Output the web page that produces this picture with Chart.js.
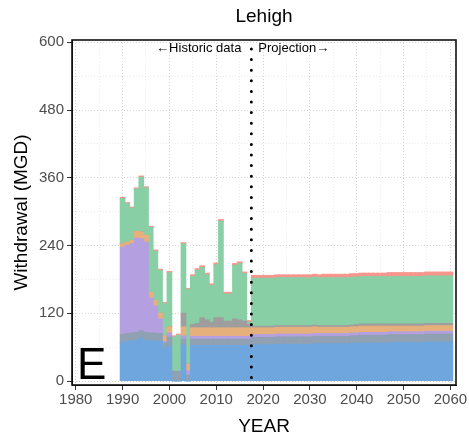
<!DOCTYPE html>
<html>
<head>
<meta charset="utf-8">
<script src="https://cdn.jsdelivr.net/npm/chart.js@4.4.0/dist/chart.umd.min.js"></script>
<style>
  html, body { margin: 0; padding: 0; background: #fff; }
</style>
</head>
<body>
<canvas id="chart" width="469" height="442"></canvas>
<script>
// years: historic 1990-2017, projection 2018-2060
const years = [
  1990, 1991, 1992, 1993, 1994, 1995, 1996, 1997, 1998, 1999,
  2000, 2001, 2002, 2003, 2004, 2005, 2006, 2007, 2008, 2009,
  2010, 2011, 2012, 2013, 2014, 2015, 2016, 2017,
  2018, 2019, 2020, 2021, 2022, 2023, 2024, 2025, 2026, 2027,
  2028, 2029, 2030, 2031, 2032, 2033, 2034, 2035, 2036, 2037,
  2038, 2039, 2040, 2041, 2042, 2043, 2044, 2045, 2046, 2047,
  2048, 2049, 2050, 2051, 2052, 2053, 2054, 2055, 2056, 2057,
  2058, 2059, 2060
];

// stacked layers, bottom to top (MGD)
const blueVals = [
  68, 70, 71, 72, 76, 72, 71, 71, 70, 57,
  62, 0, 0, 64, 0, 63, 63, 63, 63, 63,
  63, 63, 63, 63, 63, 63, 63, 63,
  64, 64, 64, 64, 64, 65, 65, 65, 65, 65,
  65, 65, 65, 66, 66, 66, 66, 66, 66, 66,
  66, 67, 67, 67, 67, 67, 67, 67, 67, 68,
  68, 68, 68, 68, 68, 68, 68, 69, 69, 69,
  69, 69, 69
];
const slateVals = [
  14, 14, 14, 14, 13, 14, 14, 14, 14, 10,
  16, 17, 17, 10, 10, 11, 11, 11, 11, 11,
  11, 11, 11, 11, 11, 11, 11, 11,
  13, 13, 13, 13, 13, 13, 13, 13, 13, 13,
  13, 13, 13, 13, 13, 13, 13, 13, 13, 13,
  13, 13, 13, 14, 14, 14, 14, 14, 14, 14,
  14, 14, 14, 14, 14, 14, 14, 14, 14, 14,
  14, 14, 14
];
const purpleVals = [
  155, 156, 158, 167, 163, 160, 62, 48, 26, 3,
  7, 0, 0, 6, 8, 5, 5, 5, 5, 5,
  5, 5, 5, 5, 5, 5, 5, 5,
  5, 5, 5, 5, 5, 5, 5, 5, 5, 5,
  5, 5, 5, 5, 5, 5, 5, 5, 5, 5,
  5, 5, 5, 5, 5, 5, 5, 5, 5, 5,
  5, 5, 5, 5, 5, 5, 5, 5, 5, 5,
  5, 5, 5
];
const orangeVals = [
  6, 6, 6, 12, 12, 12, 10, 10, 10, 10,
  11, 0, 0, 16, 12, 15, 15, 15, 15, 15,
  15, 15, 15, 15, 15, 15, 15, 15,
  12, 12, 12, 12, 12, 12, 12, 12, 12, 12,
  12, 12, 12, 12, 11, 11, 11, 11, 11, 11,
  11, 11, 11, 11, 11, 11, 11, 11, 11, 10,
  10, 10, 10, 10, 10, 10, 10, 10, 10, 10,
  10, 10, 10
];
const greyVals = [
  0, 0, 0, 0, 0, 0, 0, 0, 0, 0,
  0, 0, 0, 24, 0, 6, 8, 18, 14, 10,
  18, 18, 12, 12, 16, 14, 12, 6,
  3, 3, 3, 3, 3, 3, 3, 3, 3, 3,
  3, 3, 3, 3, 3, 3, 3, 3, 3, 3,
  3, 3, 4, 4, 4, 4, 4, 4, 4, 4,
  4, 4, 4, 4, 4, 4, 4, 4, 4, 4,
  4, 4, 4
];
const greenVals = [
  80, 68, 57, 75, 97, 84, 115, 87, 76, 57,
  96, 61, 64, 123, 132, 85, 94, 89, 80, 65,
  94, 171, 48, 48, 95, 100, 84, 4,
  85, 85, 85, 85, 85, 85, 85, 85, 85, 85,
  85, 85, 85, 85, 85, 85, 85, 85, 85, 85,
  85, 85, 84, 84, 84, 84, 84, 84, 84, 84,
  84, 84, 84, 84, 84, 84, 84, 84, 84, 84,
  84, 84, 84
];
const salmonVals = [
  2, 2, 2, 2, 2, 2, 2, 2, 2, 2,
  2, 2, 2, 2, 2, 3, 3, 3, 3, 3,
  3, 3, 3, 3, 3, 3, 3, 3,
  5, 5, 5, 5, 5, 5, 5, 5, 5, 5,
  5, 5, 5, 5, 5, 6, 6, 6, 6, 6,
  6, 6, 6, 6, 6, 6, 6, 6, 6, 7,
  7, 7, 7, 7, 7, 7, 7, 7, 7, 7,
  7, 7, 7
];

const yTicks = [0, 60, 120, 180, 240, 300, 360, 420, 480, 540, 600];
const yLabels = [0, 120, 240, 360, 480, 600];
const xTicks = [1980, 1985, 1990, 1995, 2000, 2005, 2010, 2015, 2020, 2025,
  2030, 2035, 2040, 2045, 2050, 2055, 2060];
const xLabels = [1980, 1990, 2000, 2010, 2020, 2030, 2040, 2050, 2060];
const splitYear = 2017.5;

const FONT = '"Liberation Sans", Arial, sans-serif';

const layers = [
  ['blue', blueVals, '#6fa6de'],
  ['slate', slateVals, '#8fa1b2'],
  ['purple', purpleVals, '#b4a0e0'],
  ['orange', orangeVals, '#e6b07d'],
  ['grey', greyVals, '#9e9e9e'],
  ['green', greenVals, '#89cfa6'],
  ['salmon', salmonVals, '#f6968c']
];

const datasets = layers.map(([name, vals, color]) => ({
  label: name,
  data: years.map((yr, i) => ({ x: yr, y: vals[i] })),
  backgroundColor: color,
  borderWidth: 0,
  inflateAmount: 0.5,
  barPercentage: 1,
  categoryPercentage: 1
}));

function isMajor(ctx, list) {
  return !!(ctx && ctx.tick && list.includes(ctx.tick.value));
}
function gridColor(list) {
  return ctx => isMajor(ctx, list) ? 'rgba(0,0,0,0.17)' : 'rgba(0,0,0,0.08)';
}
function tickMark(list) {
  return ctx => isMajor(ctx, list) ? '#333' : 'rgba(0,0,0,0)';
}

const decor = {
  id: 'decor',
  beforeDraw(chart) {
    const ctx = chart.ctx;
    ctx.save();
    ctx.fillStyle = '#fff';
    ctx.fillRect(0, 0, chart.width, chart.height);
    ctx.restore();
  },
  afterDraw(chart) {
    const { ctx, chartArea: a, scales: { x } } = chart;
    const px = x.getPixelForValue(splitYear);
    ctx.save();
    // historic / projection divider
    ctx.strokeStyle = '#000';
    ctx.lineWidth = 3;
    ctx.lineCap = 'round';
    ctx.setLineDash([0, 10.6]);
    ctx.beginPath();
    ctx.moveTo(px, a.top + 9);
    ctx.lineTo(px, a.bottom);
    ctx.stroke();
    ctx.setLineDash([]);

    // panel border
    ctx.lineCap = 'butt';
    ctx.lineWidth = 1.6;
    ctx.strokeStyle = '#111';
    ctx.strokeRect(a.left, a.top, a.right - a.left, a.bottom - a.top);

    ctx.fillStyle = '#000';
    ctx.textBaseline = 'middle';
    ctx.font = '13px ' + FONT;
    ctx.textAlign = 'right';
    ctx.fillText('\u2190Historic data', px - 10, a.top + 8);
    ctx.textAlign = 'left';
    ctx.fillText('Projection\u2192', px + 7, a.top + 8);

    // title and axis titles
    const cx = (a.left + a.right) / 2;
    ctx.textAlign = 'center';
    ctx.font = '19px ' + FONT;
    ctx.fillText('Lehigh', cx, 17);
    ctx.fillText('YEAR', cx, 427);
    ctx.save();
    ctx.translate(22, (a.top + a.bottom) / 2);
    ctx.rotate(-Math.PI / 2);
    ctx.fillText('Withdrawal (MGD)', 0, 0);
    ctx.restore();

    // panel letter
    ctx.textAlign = 'left';
    ctx.textBaseline = 'alphabetic';
    ctx.font = '44px ' + FONT;
    ctx.fillText('E', a.left + 5, a.bottom - 6);
    ctx.restore();
  }
};

new Chart(document.getElementById('chart'), {
  type: 'bar',
  data: { datasets },
  plugins: [decor],
  options: {
    responsive: false,
    animation: false,
    events: [],
    layout: { padding: { top: 40, right: 13, left: 0, bottom: 0 } },
    plugins: { legend: { display: false }, title: { display: false }, tooltip: { enabled: false } },
    scales: {
      x: {
        type: 'linear',
        stacked: true,
        offset: false,
        min: 1979.2,
        max: 2061.2,
        z: 1,
        afterBuildTicks: s => { s.ticks = xTicks.map(v => ({ value: v })); },
        afterFit: s => { s.height = 57; },
        ticks: {
          autoSkip: false,
          maxRotation: 0,
          padding: 1,
          color: '#4d4d4d',
          font: { family: FONT, size: 15 },
          callback: v => xLabels.includes(v) ? String(v) : ''
        },
        grid: {
          offset: false,
          color: gridColor(xLabels),
          tickColor: tickMark(xLabels),
          tickLength: 5,
          lineWidth: 1,
          tickBorderDash: []
        },
        border: { display: true, color: '#111', width: 1, dash: [1, 2] }
      },
      y: {
        stacked: true,
        min: -7,
        max: 604,
        z: 1,
        afterBuildTicks: s => { s.ticks = yTicks.map(v => ({ value: v })); },
        afterFit: s => { s.width = 72; },
        ticks: {
          padding: 3,
          color: '#4d4d4d',
          font: { family: FONT, size: 15 },
          callback: v => yLabels.includes(v) ? String(v) : ''
        },
        grid: {
          color: gridColor(yLabels),
          tickColor: tickMark(yLabels),
          tickLength: 5,
          lineWidth: 1,
          tickBorderDash: []
        },
        border: { display: true, color: '#111', width: 1, dash: [1, 2] }
      }
    }
  }
});
</script>
</body>
</html>
